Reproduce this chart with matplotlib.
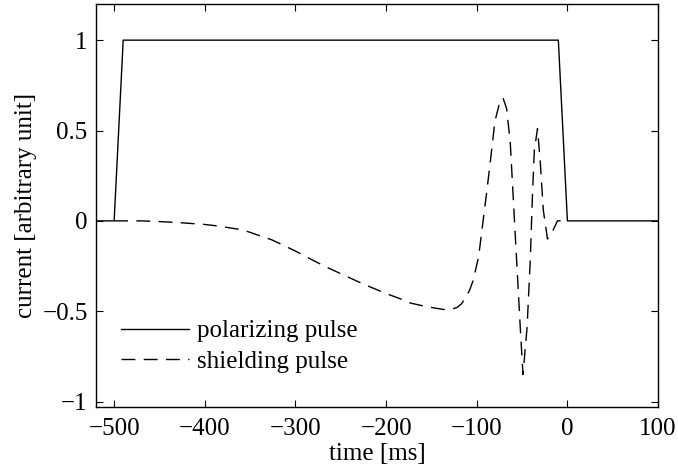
import matplotlib
matplotlib.use("Agg")
import matplotlib.pyplot as plt

plt.rcParams['font.family'] = ['Liberation Serif', 'DejaVu Serif']
plt.rcParams['font.size'] = 18
plt.rcParams['axes.unicode_minus'] = True

# polarizing pulse (time in ms, current)
pol_t = [-520, -500, -490, -10, 0, 100]
pol_i = [0, 0, 1, 1, 0, 0]

# shielding pulse
sh_t = [-500, -470, -450, -427, -400, -386, -358, -326, -300, -280, -264, -251,
        -225, -201, -185, -173, -155, -137, -128, -122, -117, -113, -108, -104,
        -98, -93, -89, -85, -80, -75, -71, -67, -63, -60, -56, -52, -49, -44.5,
        -41, -38.5, -36.5, -33, -30, -26.6, -22, -16.6, -11, -5, 0]
sh_i = [0, 0, -0.004, -0.01, -0.02, -0.028, -0.05, -0.105, -0.167, -0.22, -0.26, -0.29,
        -0.35, -0.40, -0.43, -0.455, -0.475, -0.49, -0.488, -0.48, -0.46, -0.43, -0.385, -0.33,
        -0.2, 0.0, 0.16, 0.33, 0.55, 0.65, 0.68, 0.62, 0.43, 0.15, -0.22, -0.59, -0.85, -0.59,
        -0.22, 0.15, 0.39, 0.51, 0.33, 0.06, -0.1, -0.06, 0.0, 0.0, 0.0]

yticks = [-1, -0.5, 0, 0.5, 1]
ytick_labels = ['\u22121', '\u22120.5', '0', '0.5', '1']
xticks = [-500, -400, -300, -200, -100, 0, 100]
xtick_labels = ['\u2212500', '\u2212400', '\u2212300', '\u2212200', '\u2212100', '0', '100']

fig = plt.figure(figsize=(6.78, 4.70), dpi=100)
ax = fig.add_axes([0.1416, 0.134, 0.829, 0.8575])

ax.plot(pol_t, pol_i, color='k', lw=1.0, label='polarizing pulse')
ax.plot(sh_t, sh_i, color='k', lw=1.0, dashes=(10, 6), label='shielding pulse')

ax.set_xlim(-520, 100)
ax.set_ylim(-1.03, 1.2)
ax.set_xticks(xticks)
ax.set_xticklabels(xtick_labels)
ax.set_yticks(yticks)
ax.set_yticklabels(ytick_labels)
ax.tick_params(direction='in', top=True, right=True, length=5, width=0.8)
ax.tick_params(axis='x', pad=8)
ax.tick_params(axis='y', pad=6)
for s in ax.spines.values():
    s.set_linewidth(1.0)

ax.set_xlabel('time [ms]', labelpad=2)
ax.set_ylabel('current [arbitrary unit]', labelpad=4)

ax.legend(loc='lower left', bbox_to_anchor=(0.045, 0.085), frameon=False,
          handlelength=2.7, handletextpad=0.32, labelspacing=0.32,
          borderaxespad=0, borderpad=0.0)

fig.savefig('out.png', dpi=100)
